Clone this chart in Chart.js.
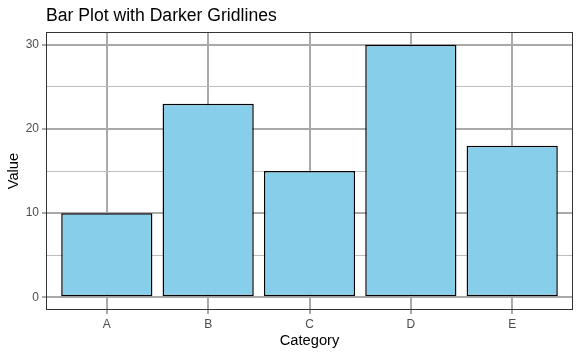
<!DOCTYPE html>
<html>
<head>
<meta charset="utf-8">
<script src="https://cdn.jsdelivr.net/npm/chart.js@4"></script>
<style>
    html, body { margin: 0; padding: 0; background: #fff; }
    #wrap { width: 581px; height: 355px; }
</style>
</head>
<body>
<div id="wrap"><canvas id="barChart" width="581" height="355"></canvas></div>
<script>
// Data
const categories = ['A', 'B', 'C', 'D', 'E'];
const values = [10, 23, 15, 30, 18];
const yTicks = [0, 5, 10, 15, 20, 25, 30]; // 5/15/25 are minor gridlines only

const COLORS = {
    bar: '#87CEEB',
    barBorder: '#000000',
    gridMajor: '#a9a9a9',
    gridMinor: '#bdbdbd',
    tickText: '#4d4d4d',
    panelBorder: '#333333'
};

const FONT = "'Liberation Sans', Arial, sans-serif";

// ggplot-like panel border around the plotting area
const panelBorder = {
    id: 'panelBorder',
    afterDraw(chart) {
        const { ctx, chartArea: a } = chart;
        ctx.save();
        ctx.strokeStyle = COLORS.panelBorder;
        ctx.lineWidth = 1;
        ctx.strokeRect(Math.round(a.left) + 0.5, Math.round(a.top) + 0.5,
            Math.round(a.right - a.left) - 1, Math.round(a.bottom - a.top) - 1);
        ctx.restore();
    }
};

const isMajor = v => v % 10 === 0;

new Chart(document.getElementById('barChart'), {
    type: 'bar',
    data: {
        datasets: [{
            data: values.map((v, i) => ({ x: i + 1, y: v })),
            backgroundColor: COLORS.bar,
            borderColor: COLORS.barBorder,
            borderWidth: 1.5,
            borderSkipped: false,
            categoryPercentage: 1,
            barPercentage: 0.9
        }]
    },
    options: {
        responsive: false,
        animation: false,
        layout: { padding: { left: 0, right: 8, top: 0, bottom: 0 } },
        plugins: {
            legend: { display: false },
            tooltip: { enabled: false },
            title: {
                display: true,
                text: 'Bar Plot with Darker Gridlines',
                align: 'start',
                fullSize: false,
                color: '#000',
                font: { family: FONT, size: 17.6, weight: 'normal' },
                padding: { top: 6, bottom: 5 }
            }
        },
        scales: {
            x: {
                type: 'linear',
                min: 0.4,
                max: 5.6,
                offset: false,
                afterBuildTicks: axis => { axis.ticks = categories.map((c, i) => ({ value: i + 1 })); },
                afterFit: axis => { axis.height = 45; },
                ticks: {
                    callback: v => categories[v - 1] || '',
                    color: COLORS.tickText,
                    font: { family: FONT, size: 12 },
                    padding: 3,
                    maxRotation: 0
                },
                grid: {
                    offset: false,
                    color: COLORS.gridMajor,
                    lineWidth: 2,
                    tickColor: COLORS.gridMajor,
                    tickLength: 4,
                    tickWidth: 2
                },
                border: { display: false },
                title: {
                    display: true,
                    text: 'Category',
                    color: '#000',
                    font: { family: FONT, size: 14.7 },
                    padding: { top: 0, bottom: 5 }
                }
            },
            y: {
                min: -1.5,
                max: 31.5,
                afterBuildTicks: axis => { axis.ticks = yTicks.map(v => ({ value: v })); },
                afterFit: axis => { axis.width = 46; },
                ticks: {
                    callback: v => isMajor(v) ? String(v) : '',
                    color: COLORS.tickText,
                    font: { family: FONT, size: 12 },
                    padding: 3
                },
                grid: {
                    color: ctx => isMajor(ctx.tick.value) ? COLORS.gridMajor : COLORS.gridMinor,
                    lineWidth: ctx => isMajor(ctx.tick.value) ? 2 : 1,
                    tickColor: ctx => isMajor(ctx.tick.value) ? COLORS.gridMajor : 'rgba(0,0,0,0)',
                    tickLength: 4,
                    tickWidth: 2
                },
                border: { display: false },
                title: {
                    display: true,
                    text: 'Value',
                    color: '#000',
                    font: { family: FONT, size: 14.7 },
                    padding: { top: 5, bottom: 0 }
                }
            }
        }
    },
    plugins: [panelBorder]
});
</script>
</body>
</html>
